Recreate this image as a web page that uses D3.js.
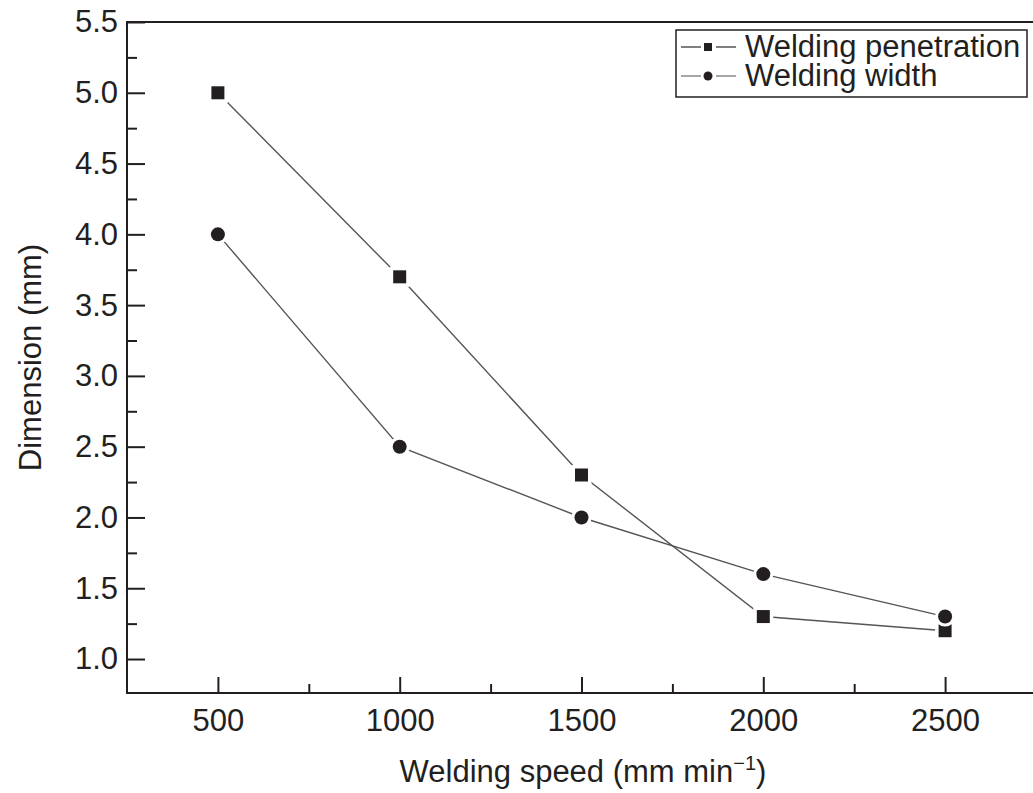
<!DOCTYPE html>
<html>
<head>
<meta charset="utf-8">
<script src="https://cdn.jsdelivr.net/npm/d3@7"></script>
<style>
  body { margin: 0; background: #fff; }
  svg { display: block; font-family: "Liberation Sans", Arial, sans-serif; }
</style>
</head>
<body>
<svg id="chart" width="1033" height="793"></svg>
<script>
const speeds = [500, 1000, 1500, 2000, 2500];
const penetration = [5.0, 3.7, 2.3, 1.3, 1.2];
const widthValues = [4.0, 2.5, 2.0, 1.6, 1.3];
const xTicks = [500, 1000, 1500, 2000, 2500];
const xMinorTicks = [750, 1250, 1750, 2250];
const yTicks = [1.0, 1.5, 2.0, 2.5, 3.0, 3.5, 4.0, 4.5, 5.0, 5.5];
const yMinorTicks = [1.25, 1.75, 2.25, 2.75, 3.25, 3.75, 4.25, 4.75, 5.25];

const svg = d3.select("#chart");
const INK = "#231f20";
const LINE = "#555";
const FONT = 31;

const MARGIN = { top: 22, right: -3, bottom: 100, left: 127 };
const W = 1033, H = 793;

const x = d3.scaleLinear().domain([250, 2750]).range([MARGIN.left, W - MARGIN.right]);
const y = d3.scaleLinear().domain([0.76, 5.5]).range([H - MARGIN.bottom, MARGIN.top]);

const plotBottom = y.range()[0];
const plotTop = y.range()[1];

// axes with inward ticks
const xAxis = svg.append("g").attr("transform", `translate(0,${plotBottom})`)
  .call(d3.axisBottom(x).tickValues(xTicks).tickSize(-16).tickPadding(16).tickFormat(d3.format("d")));
const xMinor = svg.append("g").attr("transform", `translate(0,${plotBottom})`)
  .call(d3.axisBottom(x).tickValues(xMinorTicks).tickSize(-9).tickFormat(""));
const yAxis = svg.append("g").attr("transform", `translate(${MARGIN.left},0)`)
  .call(d3.axisLeft(y).tickValues(yTicks).tickSize(-18).tickPadding(9).tickFormat(d3.format(".1f")));
const yMinor = svg.append("g").attr("transform", `translate(${MARGIN.left},0)`)
  .call(d3.axisLeft(y).tickValues(yMinorTicks).tickSize(-10).tickFormat(""));

[xAxis, xMinor, yAxis, yMinor].forEach((g) => {
  g.select(".domain").remove();
  g.selectAll(".tick line").attr("stroke", INK).attr("stroke-width", 2);
  g.selectAll(".tick text").attr("fill", INK).attr("font-size", FONT).attr("font-family", "Liberation Sans, Arial, sans-serif");
});
xAxis.selectAll(".tick text").attr("dy", "0.71em");

// frame lines: left, bottom, top
svg.append("path")
  .attr("d", `M${x.range()[1] + 5},${plotTop}H${MARGIN.left}V${plotBottom}H${x.range()[1] + 5}`)
  .attr("fill", "none").attr("stroke", INK).attr("stroke-width", 2);

const line = d3.line().x((d) => x(d[0])).y((d) => y(d[1]));
const series = [
  { name: "Welding penetration", values: penetration, shape: "square" },
  { name: "Welding width", values: widthValues, shape: "circle" }
];

const drawMarker = (g, shape, cx, cy) => {
  if (shape === "square") {
    g.append("rect").attr("x", cx - 10).attr("y", cy - 10).attr("width", 20).attr("height", 20).attr("fill", "#fff");
    g.append("rect").attr("x", cx - 6.5).attr("y", cy - 6.5).attr("width", 13).attr("height", 13).attr("fill", INK);
  } else {
    g.append("circle").attr("cx", cx).attr("cy", cy).attr("r", 10).attr("fill", "#fff");
    g.append("circle").attr("cx", cx).attr("cy", cy).attr("r", 7).attr("fill", INK);
  }
};

series.forEach((s) => {
  svg.append("path")
    .datum(speeds.map((v, i) => [v, s.values[i]]))
    .attr("d", line)
    .attr("fill", "none").attr("stroke", LINE).attr("stroke-width", 1.4);
});
series.forEach((s) => {
  const g = svg.append("g");
  speeds.forEach((v, i) => drawMarker(g, s.shape, x(v), y(s.values[i])));
});

// legend
const legend = svg.append("g");
legend.append("rect").attr("x", 676).attr("y", 30).attr("width", 351).attr("height", 67)
  .attr("fill", "#fff").attr("stroke", INK).attr("stroke-width", 1.5);
series.forEach((s, i) => {
  const cy = 47 + i * 29;
  legend.append("line").attr("x1", 681).attr("x2", 701).attr("y1", cy).attr("y2", cy).attr("stroke", i ? "#888" : LINE).attr("stroke-width", 1.5);
  legend.append("line").attr("x1", 716).attr("x2", 736).attr("y1", cy).attr("y2", cy).attr("stroke", i ? "#888" : LINE).attr("stroke-width", 1.5);
  if (s.shape === "square") {
    legend.append("rect").attr("x", 704).attr("y", cy - 4).attr("width", 8).attr("height", 8).attr("fill", INK);
  } else {
    legend.append("circle").attr("cx", 708).attr("cy", cy).attr("r", 4.5).attr("fill", INK);
  }
  legend.append("text").attr("x", 745).attr("y", cy + 10).attr("fill", INK).attr("font-size", FONT).text(s.name);
});

// axis titles
const xTitle = svg.append("text").attr("x", 583).attr("y", 782).attr("text-anchor", "middle")
  .attr("fill", INK).attr("font-size", FONT);
xTitle.append("tspan").text("Welding speed (mm min");
xTitle.append("tspan").attr("dy", -12).attr("font-size", 20).text("\u22121");
xTitle.append("tspan").attr("dy", 12).text(")");

svg.append("text")
  .attr("transform", `translate(41,${(plotTop + plotBottom) / 2}) rotate(-90)`)
  .attr("text-anchor", "middle").attr("fill", INK).attr("font-size", FONT)
  .text("Dimension (mm)");
</script>
</body>
</html>
